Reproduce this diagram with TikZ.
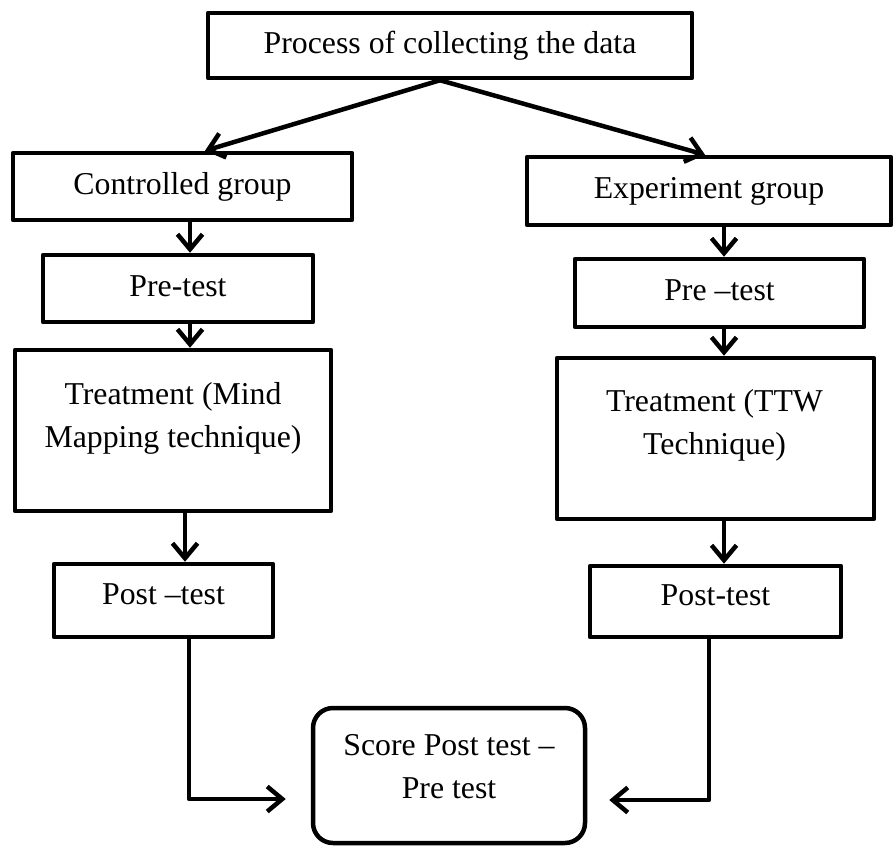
\documentclass[tikz,border=0pt]{standalone}
\usepackage{fontspec}
\setmainfont{Liberation Serif}
\usetikzlibrary{arrows.meta,calc}
\begin{document}
\begin{tikzpicture}[x=1pt,y=-1pt,
  every node/.style={font=\fontsize{31.8}{43}\selectfont},
  box/.style={draw, line width=4.5pt, rectangle, inner sep=0pt, text height=22pt, text depth=7pt, line join=round},
  txt/.style={inner sep=0pt},
  arr/.style={line width=4.5pt, -{Straight Barb[length=15pt,width=25pt]}}]
\useasboundingbox (0,0) rectangle (894,846);

\node[box,minimum width=484pt,minimum height=65pt] (top) at (450,45.5) {Process of collecting the data};
\node[box,minimum width=339pt,minimum height=67pt] (ctrl) at (182.5,186.5) {Controlled group};
\node[box,minimum width=364pt,minimum height=68pt] (exp) at (709,191) {Experiment group};
\node[box,minimum width=270pt,minimum height=67pt] (pre1) at (178,288.5) {Pre-test};
\node[box,minimum width=289pt,minimum height=68pt] (pre2) at (719.5,293) {Pre –test};

\node[box,minimum width=316pt,minimum height=161pt] (tr1) at (173,430.5) {};
\node[txt,anchor=base] (tr1a) at (173,404) {Treatment (Mind};
\node[txt,anchor=base] (tr1b) at (173,447) {Mapping technique)};

\node[box,minimum width=317pt,minimum height=161pt] (tr2) at (715.5,438.5) {};
\node[txt,anchor=base] (tr2a) at (714.5,411) {Treatment (TTW};
\node[txt,anchor=base] (tr2b) at (714.5,454) {Technique)};

\node[box,text depth=14pt,minimum width=219pt,minimum height=73pt] (post1) at (163.5,600.5) {Post –test};
\node[box,text depth=14pt,minimum width=251pt,minimum height=71pt] (post2) at (715.5,601.5) {Post-test};

\node[box,rounded corners=20pt,minimum width=272pt,minimum height=135pt] (score) at (449,775.5) {};
\node[txt,anchor=base] (sc1) at (449,755) {Score Post test –};
\node[txt,anchor=base] (sc2) at (449,798) {Pre test};

\draw[arr] ([xshift=-10pt]top.south) -- ([xshift=22.5pt]ctrl.north);
\draw[arr] ([xshift=-10pt]top.south) -- ([xshift=-4pt]exp.north);

\draw[arr] ([xshift=7.5pt]ctrl.south) -- ([xshift=7.5pt]ctrl.south |- pre1.north);
\draw[arr] ([xshift=12pt]pre1.south) -- ([xshift=12pt]pre1.south |- tr1.north);
\draw[arr] ([xshift=12pt]tr1.south) -- ([xshift=12pt]tr1.south |- post1.north);

\draw[arr] ([xshift=15pt]exp.south) -- ([xshift=15pt]exp.south |- pre2.north);
\draw[arr] ([xshift=4.5pt]pre2.south) -- ([xshift=4.5pt]pre2.south |- tr2.north);
\draw[arr] ([xshift=8.5pt]tr2.south) -- ([xshift=8.5pt]tr2.south |- post2.north);

\draw[arr,line join=round] ([xshift=25.5pt]post1.south) |- ([xshift=-25pt,yshift=-23.5pt]score.west);
\draw[arr,line join=round] ([xshift=-6.5pt]post2.south) |- ([xshift=22pt,yshift=-24.5pt]score.east);
\end{tikzpicture}
\end{document}
